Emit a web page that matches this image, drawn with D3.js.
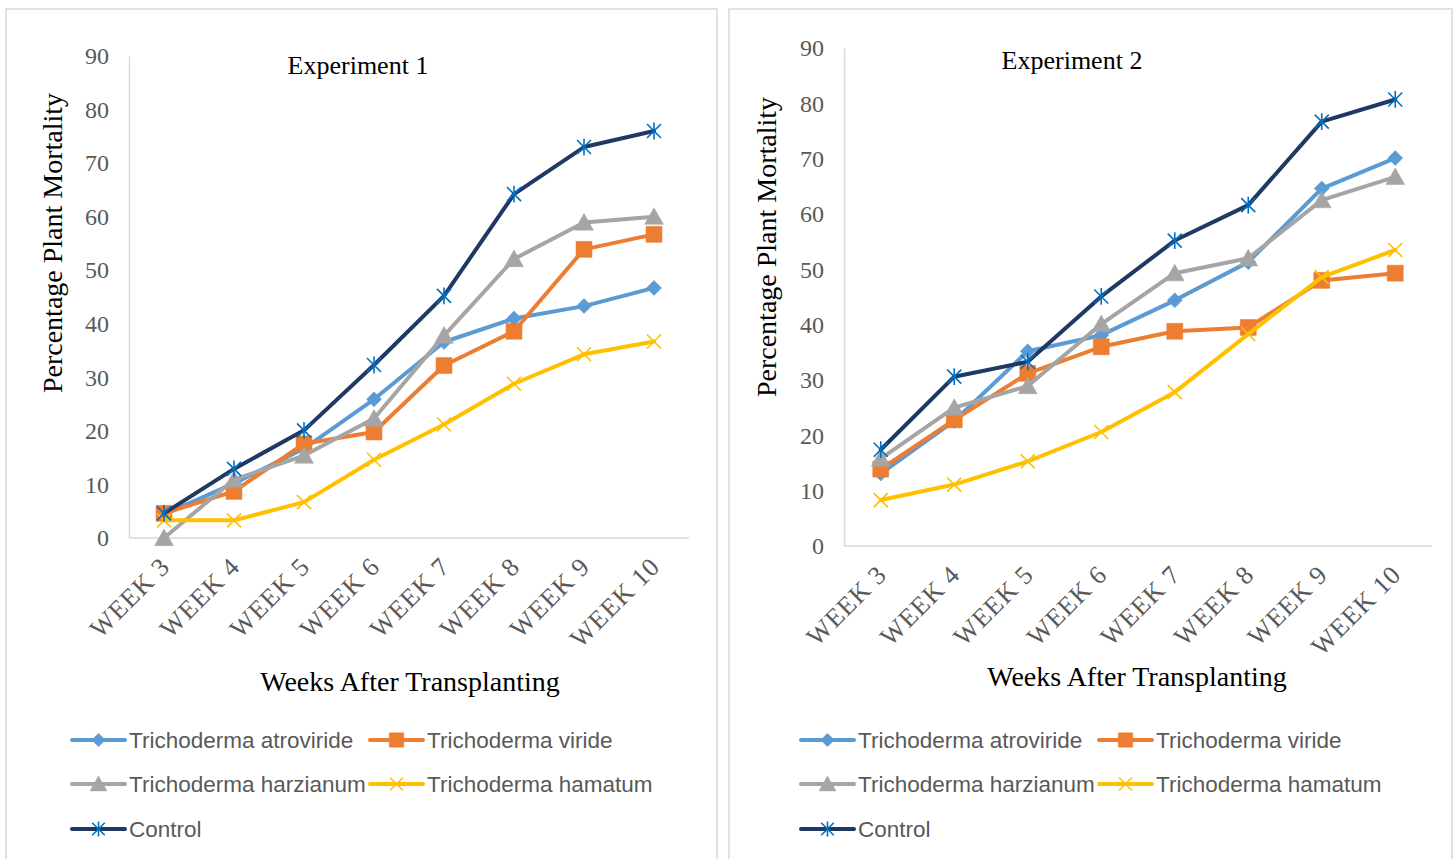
<!DOCTYPE html>
<html>
<head>
<meta charset="utf-8">
<script src="https://cdn.jsdelivr.net/npm/d3@7"></script>
<style>
  html, body { margin: 0; padding: 0; background: #fff; }
  svg { display: block; }
</style>
</head>
<body>
<svg id="chart" width="1456" height="859"></svg>
<script>
// Categories (weeks after transplanting)
const weeks = ["WEEK 3", "WEEK 4", "WEEK 5", "WEEK 6", "WEEK 7", "WEEK 8", "WEEK 9", "WEEK 10"];
const yTicks = [0, 10, 20, 30, 40, 50, 60, 70, 80, 90];
const seriesNames = ["Trichoderma atroviride", "Trichoderma viride", "Trichoderma harzianum", "Trichoderma hamatum", "Control"];

// Experiment 1 – percentage plant mortality
const exp1Atroviride = [4.4, 10.2, 16.7, 25.9, 36.6, 41.0, 43.3, 46.7];
const exp1Viride     = [4.6, 8.7, 17.6, 19.8, 32.2, 38.6, 53.9, 56.7];
const exp1Harzianum  = [0.0, 10.9, 15.4, 22.3, 37.8, 52.1, 58.9, 60.0];
const exp1Hamatum    = [3.3, 3.3, 6.7, 14.6, 21.2, 28.8, 34.3, 36.7];
const exp1Control    = [4.6, 12.9, 20.1, 32.3, 45.2, 64.2, 73.0, 76.0];

// Experiment 2 – percentage plant mortality
const exp2Atroviride = [13.1, 22.6, 35.2, 38.1, 44.4, 51.3, 64.6, 70.1];
const exp2Viride     = [13.9, 22.8, 31.2, 36.0, 38.8, 39.5, 48.0, 49.3];
const exp2Harzianum  = [15.8, 25.0, 28.9, 40.1, 49.3, 52.0, 62.5, 66.7];
const exp2Hamatum    = [8.3, 11.1, 15.3, 20.6, 27.8, 38.3, 48.6, 53.5];
const exp2Control    = [17.4, 30.6, 33.3, 45.1, 55.2, 61.6, 76.7, 80.7];

// Marker shapes (custom d3 symbol types, r = half extent)
const diamond = { draw(c, r) { c.moveTo(0, -r); c.lineTo(r, 0); c.lineTo(0, r); c.lineTo(-r, 0); c.closePath(); } };
const square = { draw(c, r) { c.rect(-r, -r, 2 * r, 2 * r); } };
const triangle = { draw(c, r) { c.moveTo(0, -r * 1.0); c.lineTo(r * 1.05, r * 0.85); c.lineTo(-r * 1.05, r * 0.85); c.closePath(); } };
const cross = { draw(c, r) { c.moveTo(-r, -r); c.lineTo(r, r); c.moveTo(r, -r); c.lineTo(-r, r); } };
const star = { draw(c, r) { c.moveTo(-r, -r); c.lineTo(r, r); c.moveTo(r, -r); c.lineTo(-r, r); c.moveTo(0, -r * 1.2); c.lineTo(0, r * 1.2); } };

const styles = [
  { line: "#5B9BD5", marker: "#5B9BD5", shape: diamond, r: 7.5, filled: true },
  { line: "#ED7D31", marker: "#ED7D31", shape: square, r: 8, filled: true },
  { line: "#A5A5A5", marker: "#A5A5A5", shape: triangle, r: 9, filled: true },
  { line: "#FFC000", marker: "#FFC000", shape: cross, r: 7, filled: false },
  { line: "#1F3864", marker: "#0070C0", shape: star, r: 7, filled: false }
];

const panels = [
  {
    title: "Experiment 1",
    series: [exp1Atroviride, exp1Viride, exp1Harzianum, exp1Hamatum, exp1Control],
    border: [6, 9, 711, 900],
    x: [129, 689], y: [538, 56],
    titlePos: [358, 74],
    yTitlePos: [52, 243],
    xTitlePos: [410, 691],
    legend: { x1: 72, x2: 370, rows: [740, 784, 829] }
  },
  {
    title: "Experiment 2",
    series: [exp2Atroviride, exp2Viride, exp2Harzianum, exp2Hamatum, exp2Control],
    border: [729, 9, 723, 900],
    x: [844, 1432], y: [546, 48],
    titlePos: [1072, 69],
    yTitlePos: [766, 247],
    xTitlePos: [1137, 686],
    legend: { x1: 801, x2: 1099, rows: [740, 784, 829] }
  }
];

const svg = d3.select("#chart");
const serif = "'Liberation Serif', 'Times New Roman', serif";
const sans = "'Liberation Sans', Arial, sans-serif";

function drawMarker(g, st, cx, cy, scale) {
  const r = st.r * (scale || 1);
  g.append("path")
    .attr("transform", `translate(${cx},${cy})`)
    .attr("d", d3.symbol(st.shape, r)())
    .attr("fill", st.filled ? st.marker : "none")
    .attr("stroke", st.marker)
    .attr("stroke-width", st.filled ? 0.5 : 1.6);
}

panels.forEach(p => {
  const g = svg.append("g");

  // panel frame
  g.append("rect")
    .attr("x", p.border[0]).attr("y", p.border[1])
    .attr("width", p.border[2]).attr("height", p.border[3])
    .attr("fill", "#fff").attr("stroke", "#D9D9D9").attr("stroke-width", 1.5);

  const x = d3.scalePoint().domain(weeks).range(p.x).padding(0.5);
  const y = d3.scaleLinear().domain([0, 90]).range(p.y);

  // y axis
  const yAxis = g.append("g")
    .attr("transform", `translate(${p.x[0]},0)`)
    .call(d3.axisLeft(y).tickValues(yTicks).tickSize(0).tickPadding(20));
  yAxis.select(".domain").attr("stroke", "#D9D9D9").attr("stroke-width", 1.5);
  yAxis.selectAll("text")
    .attr("font-family", serif).attr("font-size", 24).attr("fill", "#595959");

  // x axis
  const xAxis = g.append("g")
    .attr("transform", `translate(0,${p.y[0]})`)
    .call(d3.axisBottom(x).tickSize(0).tickSizeOuter(0));
  xAxis.select(".domain").attr("stroke", "#D9D9D9").attr("stroke-width", 1.5)
    .attr("d", `M${p.x[0]},0H${p.x[1]}`);
  xAxis.selectAll("text")
    .attr("font-family", serif).attr("font-size", 26).attr("fill", "#595959")
    .attr("letter-spacing", 1)
    .attr("x", 0).attr("y", 0).attr("dy", 0)
    .attr("text-anchor", "end")
    .attr("transform", "translate(7,30) rotate(-45)");

  // series lines and markers
  p.series.forEach((vals, i) => {
    const st = styles[i];
    const pts = vals.map((v, j) => [x(weeks[j]), y(v)]);
    g.append("path")
      .attr("d", d3.line()(pts))
      .attr("fill", "none")
      .attr("stroke", st.line)
      .attr("stroke-width", 4)
      .attr("stroke-linejoin", "round")
      .attr("stroke-linecap", "round");
    pts.forEach(pt => drawMarker(g, st, pt[0], pt[1]));
  });

  // titles
  g.append("text")
    .attr("x", p.titlePos[0]).attr("y", p.titlePos[1])
    .attr("text-anchor", "middle")
    .attr("font-family", serif).attr("font-size", 26).attr("fill", "#000")
    .text(p.title);

  g.append("text")
    .attr("transform", `translate(${p.yTitlePos[0]},${p.yTitlePos[1]}) rotate(-90)`)
    .attr("text-anchor", "middle").attr("dy", "0.35em")
    .attr("font-family", serif).attr("font-size", 28).attr("fill", "#000")
    .text("Percentage Plant Mortality");

  g.append("text")
    .attr("x", p.xTitlePos[0]).attr("y", p.xTitlePos[1])
    .attr("text-anchor", "middle")
    .attr("font-family", serif).attr("font-size", 28).attr("fill", "#000")
    .text("Weeks After Transplanting");

  // legend
  const cols = [p.legend.x1, p.legend.x2];
  const places = [[0, 0], [1, 0], [0, 1], [1, 1], [0, 2]];
  seriesNames.forEach((name, i) => {
    const st = styles[i];
    const lx = cols[places[i][0]];
    const ly = p.legend.rows[places[i][1]];
    const lg = g.append("g");
    lg.append("line")
      .attr("x1", lx).attr("x2", lx + 53).attr("y1", ly).attr("y2", ly)
      .attr("stroke", st.line).attr("stroke-width", 4).attr("stroke-linecap", "round");
    drawMarker(lg, st, lx + 26.5, ly, 0.9);
    lg.append("text")
      .attr("x", lx + 57).attr("y", ly).attr("dy", "0.35em")
      .attr("font-family", sans).attr("font-size", 22.5).attr("fill", "#595959")
      .text(name);
  });
});
</script>
</body>
</html>
